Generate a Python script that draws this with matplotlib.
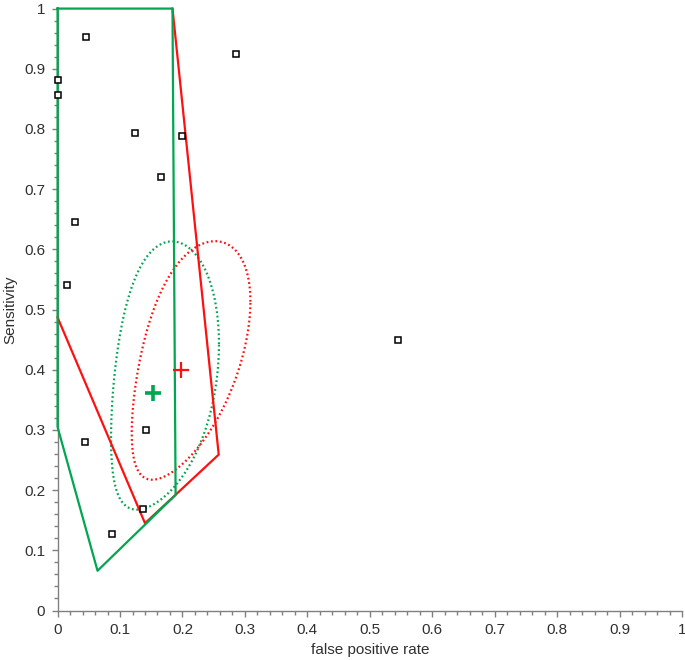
import numpy as np
import matplotlib
matplotlib.use("Agg")
import matplotlib.pyplot as plt
from matplotlib.ticker import MultipleLocator, FuncFormatter

plt.rcParams['font.family'] = ['Liberation Sans', 'DejaVu Sans']

# individual studies
study_fpr = [0.0, 0.0, 0.046, 0.286, 0.124, 0.199, 0.166, 0.028, 0.015, 0.545,
             0.044, 0.142, 0.136, 0.087]
study_sens = [0.881, 0.856, 0.952, 0.925, 0.794, 0.789, 0.720, 0.645, 0.540, 0.449,
              0.280, 0.300, 0.169, 0.127]

# prediction regions (polygons)
green_fpr = [0.0, 0.184, 0.189, 0.064, 0.0, 0.0]
green_sens = [1.0, 1.0, 0.192, 0.066, 0.305, 1.0]
red_fpr = [0.184, 0.258, 0.140, 0.0]
red_sens = [1.0, 0.259, 0.145, 0.487]

# summary points
green_summary = (0.153, 0.361)
red_summary = (0.197, 0.399)

# confidence ellipses in logit space: half-width x, half-width y, correlation
green_ell = (0.657, 1.032, 0.33)
red_ell = (0.599, 0.872, 0.53)

GREEN = '#00a651'
RED = '#ff1010'


def logit(p):
    return np.log(p / (1 - p))


def expit(v):
    return 1 / (1 + np.exp(-v))


def ellipse(center, ell):
    t = np.linspace(0, 2 * np.pi, 400)
    mx, my = logit(center[0]), logit(center[1])
    ax_, ay_, rho = ell
    u = mx + ax_ * np.cos(t)
    v = my + ay_ * (rho * np.cos(t) + np.sqrt(1 - rho ** 2) * np.sin(t))
    return expit(u), expit(v)


fig = plt.figure(figsize=(6.85, 6.6), dpi=100)
ax = fig.add_axes([0.084, 0.075, 0.912, 0.912])

ax.plot(red_fpr, red_sens, color=RED, lw=1.6, zorder=3, clip_on=False)
ax.plot(green_fpr, green_sens, color=GREEN, lw=1.6, zorder=3.5, clip_on=False)

ex, ey = ellipse(green_summary, green_ell)
ax.plot(ex, ey, color=GREEN, lw=1.6, dashes=(0.8, 1.2), zorder=2)
ex, ey = ellipse(red_summary, red_ell)
ax.plot(ex, ey, color=RED, lw=1.6, dashes=(0.8, 1.2), zorder=2)

ax.plot(study_fpr, study_sens, ls='none', marker='s', ms=5, mfc='white',
        mec='black', mew=1.1, zorder=4, clip_on=False)

ax.plot(*green_summary, marker='+', ms=12, mew=2.6, color=GREEN, zorder=5)
ax.plot(*red_summary, marker='+', ms=12, mew=1.6, color=RED, zorder=5)

ax.set_xlim(0, 1)
ax.set_ylim(0, 1)
for s in ['top', 'right']:
    ax.spines[s].set_visible(False)
for s in ['left', 'bottom']:
    ax.spines[s].set_color('#808080')
    ax.spines[s].set_linewidth(1.0)
    ax.spines[s].set_zorder(2.5)

ax.xaxis.set_major_locator(MultipleLocator(0.1))
ax.yaxis.set_major_locator(MultipleLocator(0.1))
ax.xaxis.set_minor_locator(MultipleLocator(0.02))
ax.yaxis.set_minor_locator(MultipleLocator(0.02))
fmt = FuncFormatter(lambda v, p: '%g' % round(v, 2))
ax.xaxis.set_major_formatter(fmt)
ax.yaxis.set_major_formatter(fmt)
ax.tick_params(which='both', direction='out', color='#808080', width=1.0,
               labelsize=11, labelcolor='#303030')
ax.tick_params(which='major', length=4, pad=5)
ax.tick_params(which='minor', length=3)

ax.set_xlabel('false positive rate', fontsize=11, color='#303030', labelpad=4)
ax.set_ylabel('Sensitivity', fontsize=11, color='#303030', labelpad=5)

fig.savefig('out.png', dpi=100)
